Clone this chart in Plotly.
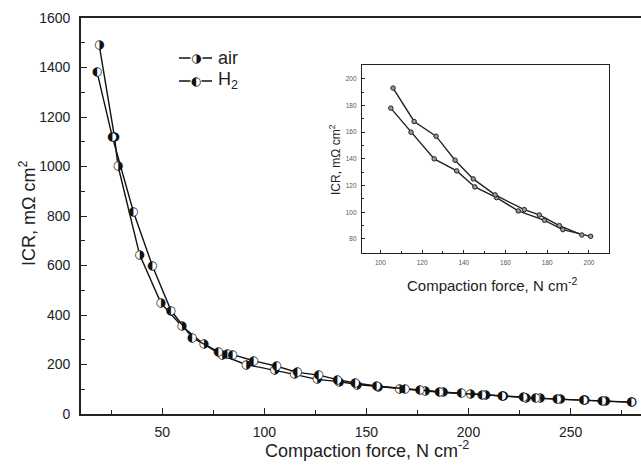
import plotly.graph_objects as go

# ---- data ----
air_x = [19.1, 26.6, 28.3, 38.9, 49.3, 59.6, 70.3, 79.2, 91.0, 105.0, 114.7, 125.8, 136.6, 145.3,
         155.7, 166.1, 178.7, 187.5, 200.8, 208.3, 217.0, 228.0, 235.0, 245.0, 257.0, 267.0, 280.0]
air_y = [1491, 1120, 1004, 644, 449, 355, 283, 237, 200, 178, 160, 140, 131, 119,
         111, 101, 94, 87, 82, 77, 72, 66, 63, 59, 55, 53, 47]

h2_x = [18.1, 25.6, 35.9, 45.2, 54.3, 64.7, 77.6, 82.0, 84.5, 94.8, 106.1, 116.2, 126.7, 135.8,
        144.5, 155.0, 169.0, 176.2, 185.8, 196.6, 206.7, 216.5, 227.0, 233.0, 243.5, 256.5, 265.5, 279.9]
h2_y = [1380, 1118, 816, 598, 418, 308, 251, 242, 240, 215, 193, 168, 157, 139,
        125, 113, 102, 98, 90, 83, 78, 73, 67, 64, 60, 56, 54, 48]

series_names = ["air", "H<sub>2</sub>"]
series_glyphs = ["\u25D1", "\u25D0"]

main_x_ticks = [50, 100, 150, 200, 250]
main_y_ticks = [0, 200, 400, 600, 800, 1000, 1200, 1400, 1600]
inset_x_ticks = [100, 120, 140, 160, 180, 200]
inset_y_ticks = [80, 100, 120, 140, 160, 180, 200]
inset_lo, inset_hi = 100, 202

W, H = 641, 468
ML, MR, MT, MB = 81, 0, 18, 54
PW, PH = W - ML - MR, H - MT - MB


def px(xp):
    return (xp - ML) / PW


def py(yp):
    return (H - MB - yp) / PH


fig = go.Figure()

for xs, ys, name, g in [(air_x, air_y, series_names[0], series_glyphs[0]),
                        (h2_x, h2_y, series_names[1], series_glyphs[1])]:
    fig.add_trace(go.Scatter(
        x=xs, y=ys, mode="lines+markers+text", name=name,
        line=dict(color="#111111", width=1.4),
        marker=dict(symbol="circle", size=8, color="white", line=dict(width=0)),
        text=[g] * len(xs), textposition="middle center",
        textfont=dict(family="DejaVu Sans", size=12, color="#111111"),
        cliponaxis=True, showlegend=False, xaxis="x", yaxis="y"))
    ix = [x for x in xs if inset_lo <= x <= inset_hi]
    iy = [y for x, y in zip(xs, ys) if inset_lo <= x <= inset_hi]
    fig.add_trace(go.Scatter(
        x=ix, y=iy, mode="lines+markers", name=name,
        line=dict(color="#222222", width=1.4),
        marker=dict(symbol="circle", size=4.5, color="#9a9a9a", line=dict(color="#222222", width=1)),
        showlegend=False, xaxis="x2", yaxis="y2"))

axis_common = dict(showline=True, linecolor="#222222", linewidth=1.6, mirror=True, automargin=False,
                   ticks="inside", tickcolor="#222222", showgrid=False, zeroline=False)

# inset placement (pixels)
IL, IR, IT, IB = 362, 609, 65, 253

fig.update_layout(
    width=W, height=H, margin=dict(l=ML, r=MR, t=MT, b=MB, autoexpand=False),
    paper_bgcolor="white", plot_bgcolor="white",
    font=dict(family="Liberation Sans, Arial", color="#222222"),
    xaxis=dict(range=[10.2, 284.5], tickvals=main_x_ticks, ticklen=6, tickwidth=1.4,
               minor=dict(dtick=25, tick0=0, ticks="inside", ticklen=4, tickcolor="#222222", tickwidth=1.2),
               tickfont=dict(size=14), ticklabelstandoff=4, **axis_common),
    yaxis=dict(range=[0, 1600], tickvals=main_y_ticks, ticklen=6, tickwidth=1.4,
               minor=dict(dtick=100, tick0=0, ticks="inside", ticklen=4, tickcolor="#222222", tickwidth=1.2),
               tickfont=dict(size=14), ticklabelstandoff=6, **axis_common),
    xaxis2=dict(domain=[px(IL), px(IR)], anchor="y2", range=[91.2, 209.6], tickvals=inset_x_ticks,
                ticklen=3, tickwidth=1,
                minor=dict(dtick=10, tick0=0, ticks="inside", ticklen=2, tickcolor="#222222"),
                tickfont=dict(size=6.5, color="#555555"), ticklabelstandoff=3,
                **{**axis_common, "linewidth": 1.3}),
    yaxis2=dict(domain=[py(IB), py(IT)], anchor="x2", range=[69.5, 210.3], tickvals=inset_y_ticks,
                ticklen=3, tickwidth=1,
                minor=dict(dtick=10, tick0=0, ticks="inside", ticklen=2, tickcolor="#222222"),
                tickfont=dict(size=6.5, color="#555555"), ticklabelstandoff=3,
                **{**axis_common, "linewidth": 1.3}),
)

ann = []
# main axis titles
ann.append(dict(text="Compaction force, N cm<sup>-2</sup>", x=px(367), y=py(450), xref="paper", yref="paper",
                showarrow=False, font=dict(size=18), xanchor="center", yanchor="middle"))
ann.append(dict(text="ICR, mΩ cm<sup>2</sup>", x=px(27), y=py(214), xref="paper", yref="paper",
                showarrow=False, font=dict(size=18), textangle=-90, xanchor="center", yanchor="middle"))
# inset axis titles
ann.append(dict(text="Compaction force, N cm<sup>-2</sup>", x=px(492), y=py(284), xref="paper", yref="paper",
                showarrow=False, font=dict(size=15), xanchor="center", yanchor="middle"))
ann.append(dict(text="ICR, mΩ cm<sup>2</sup>", x=px(335), y=py(160), xref="paper", yref="paper",
                showarrow=False, font=dict(size=12), textangle=-90, xanchor="center", yanchor="middle"))

# legend
shapes = []
for i, (name, g) in enumerate(zip(series_names, series_glyphs)):
    yl = 58 + 23 * i
    shapes.append(dict(type="line", xref="paper", yref="paper", x0=px(179), x1=px(212), y0=py(yl), y1=py(yl),
                       line=dict(color="#111111", width=1.4)))
    ann.append(dict(text=g, x=px(196), y=py(yl), xref="paper", yref="paper", showarrow=False,
                    font=dict(family="DejaVu Sans", size=12, color="#111111"), bgcolor="white",
                    borderpad=0, xanchor="center", yanchor="middle"))
    ann.append(dict(text=name, x=px(216), y=py(yl), xref="paper", yref="paper", showarrow=False,
                    font=dict(size=18), xanchor="left", yanchor="middle"))

fig.update_layout(annotations=ann, shapes=shapes)
fig.write_html("out.html", config={"displayModeBar": False},
               post_script="document.body.style.margin='0';")
